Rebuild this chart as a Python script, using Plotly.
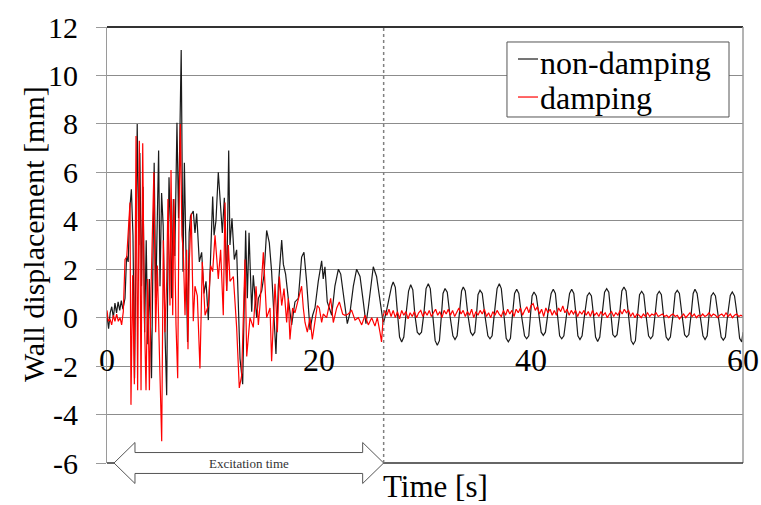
import plotly.graph_objects as go

# ---------------- data ----------------
y_min, y_max = -6, 12
x_min, x_max = 0, 60
x_ticks = [0, 20, 40, 60]
y_ticks = [12, 10, 8, 6, 4, 2, 0, -2, -4, -6]
y_tick_labels = ["12", "10", "8", "6", "4", "2", "0", "-2", "-4", "-6"]
series_names = ["non-damping", "damping"]
series_colors = ["#1a1a1a", "#ff0000"]
excitation_start = 0.66
excitation_end = 26.1

# non-damping (black)
nd_time = [0.0, 0.15, 0.3, 0.45, 0.6, 0.75, 0.9, 1.05, 1.2, 1.35, 1.5, 1.7, 1.85, 2.0, 2.15, 2.3, 2.45, 2.6,
           2.85, 3.0, 3.1, 3.25, 3.4, 3.55, 3.7, 3.85, 4.0, 4.2, 4.45, 4.6, 4.87, 5.0, 5.15, 5.3, 5.47, 5.63,
           5.75, 5.85, 6.0, 6.1, 6.26, 6.4, 6.6, 6.75, 7.0, 7.17, 7.3, 7.45, 7.6, 7.75, 7.88,
           8.14, 8.3, 8.46, 8.71, 8.93, 9.15, 9.34, 9.56, 9.78, 9.97, 10.1, 10.28, 10.5, 10.72, 10.88, 11.07,
           11.29, 11.48, 11.6, 11.79, 12.01, 12.23, 12.55, 12.8, 12.96, 13.08, 13.24, 13.4, 13.65, 13.8, 14.12,
           14.28, 14.59, 14.81, 15.06, 15.31, 15.53, 15.94, 16.16, 16.48, 16.64, 16.85, 17.1, 17.42, 17.73,
           18.05, 18.36, 18.58, 18.83, 19.15, 19.4, 19.62, 19.93, 20.25, 20.4, 20.56, 20.78, 21.2, 21.5, 21.83,
           22.05, 22.45, 22.67, 22.92, 23.24, 23.55, 23.87, 24.18, 24.43, 24.65, 24.87, 25.12, 25.43, 25.75, 26.07,
           26.4, 26.7, 26.85, 27.0, 27.2, 27.4, 27.6, 27.8, 28.0, 28.2, 28.45, 28.65, 28.85, 29.05, 29.27, 29.47,
           29.67, 29.9, 30.1, 30.31, 30.5, 30.73, 30.96, 31.16, 31.36, 31.55, 31.7, 31.89, 32.1, 32.35, 32.63,
           32.83, 33.03, 33.25, 33.45, 33.61, 33.8, 34.05, 34.3, 34.5, 34.7, 34.85, 35.0, 35.19, 35.4, 35.65,
           35.93, 36.13, 36.33, 36.55, 36.8, 37.01, 37.2, 37.45, 37.66, 37.86, 38.06, 38.25, 38.45, 38.65, 38.85,
           39.1, 39.39, 39.59, 39.79, 39.95, 40.1, 40.28, 40.5, 40.75, 40.96, 41.16, 41.36, 41.6, 41.9, 42.1,
           42.3, 42.5, 42.7, 42.9, 43.1, 43.35, 43.64, 43.84, 44.04, 44.25, 44.42, 44.62, 44.82, 45.05, 45.3,
           45.5, 45.7, 45.9, 46.09, 46.29, 46.49, 46.7, 46.94, 47.14, 47.34, 47.55, 47.72, 47.92, 48.12, 48.35,
           48.57, 48.77, 48.97, 49.2, 49.45, 49.65, 49.85, 50.05, 50.24, 50.44, 50.64, 50.85, 51.09, 51.29, 51.49,
           51.7, 51.9, 52.1, 52.3, 52.5, 52.75, 52.95, 53.15, 53.4, 53.6, 53.8, 54.0, 54.25, 54.49, 54.69, 54.89,
           55.1, 55.3, 55.47, 55.67, 55.95, 56.22, 56.42, 56.62, 56.8, 57.0, 57.2, 57.4, 57.65, 57.94, 58.14,
           58.34, 58.55, 58.8, 58.99, 59.2, 59.45, 59.68, 59.88, 60.0]
nd_disp = [0.1, -0.45, 0.2, 0.45, 0.0, 0.6, 0.2, 0.65, 0.3, 0.7, 0.35, 0.8, 2.55, 2.3, 4.5, 5.3, 3.4, -2.5,
           8.0, 3.0, 6.8, 1.3, 5.4, -0.6, 3.2, -1.1, 1.6, -2.5, 6.4, 0.8, 6.9, 1.3, 5.15, 3.8, -0.6, -3.2,
           2.5, 5.8, 3.5, 0.8, 4.9, 2.55, 8.05, 4.1, 11.05, 1.9, 6.4, 3.2, -1.0, 3.5, 4.2,
           4.4, 3.5, 4.3, 2.3, 2.7, 1.0, 1.5, -0.1, 2.6, 5.0, 3.4, 4.0, 6.0, 4.3, 3.5, 4.95,
           1.1, 6.9, 3.0, 4.1, 2.4, 2.8, -1.7, -2.75, 0.5, 3.6, 0.8, 3.5, 0.25, 1.75, 0.0,
           0.8, 1.1, 1.75, 3.6, 3.1, 1.9, -1.5, 1.3, 3.2, 2.2, 1.8, 0.8, -0.3, 0.65,
           0.8, 2.5, 2.7, 1.5, -0.5, 0.1, 0.4, 1.5, 2.35, 1.6, 2.1, 0.65, 0.1, 1.3, 2.0,
           1.8, 0.5, -0.25, 0.2, 1.3, 2.0, 1.7, 0.65, -0.25, 0.4, 1.2, 2.1, 1.7, 0.8, -0.25,
           0.35, 1.0, 1.3, 1.47, 1.25, 0.2, -0.8, -1.0, -0.8, 0.1, 1.1, 1.36, 1.15, 0.1, -0.6, -0.7,
           -0.6, 0.2, 1.2, 1.4, 1.2, 0.1, -0.95, -1.14, -0.95, 0.1, 1.0, 1.2, 1.05, 0.1, -0.75,
           -0.9, -0.75, 0.2, 1.1, 1.27, 1.1, 0.1, -0.6, -0.73, -0.6, 0.1, 0.95, 1.13, 1.0, 0.1,
           -0.75, -0.87, -0.75, 0.2, 1.2, 1.4, 1.2, 0.1, -0.85, -1.0, -0.85, 0.1, 1.0, 1.17, 1.0,
           0.1, -0.75, -0.87, -0.75, 0.1, 0.9, 1.06, 0.9, 0.1, -0.6, -0.73, -0.6, 0.2, 1.0, 1.17,
           1.0, 0.1, -0.75, -0.87, -0.75, 0.1, 1.0, 1.17, 1.0, 0.1, -0.75, -0.9, -0.75, 0.1, 0.9,
           1.03, 0.9, 0.1, -0.8, -0.98, -0.8, 0.1, 1.05, 1.2, 1.05, 0.1, -0.7, -0.8, -0.7, 0.1,
           1.1, 1.27, 1.1, 0.1, -0.95, -1.1, -0.95, 0.1, 0.95, 1.09, 0.95, 0.1, -0.75, -0.87, -0.75,
           0.1, 0.95, 1.09, 0.95, 0.1, -0.8, -0.93, -0.8, 0.1, 1.0, 1.13, 1.0, 0.1, -0.7, -0.8, -0.7,
           0.1, 1.0, 1.17, 1.0, 0.1, -0.75, -0.9, -0.75, 0.1, 0.9, 1.03, 0.9, 0.1, -0.8, -0.93,
           -0.8, 0.1, 0.92, 1.06, 0.9, 0.1, -0.85, -1.0, -0.6]

# damping (red), excitation part
d_time_exc = [0.0, 0.12, 0.28, 0.44, 0.6, 0.75, 0.91, 1.07, 1.23, 1.38, 1.54, 1.7, 1.86, 2.01, 2.17, 2.26,
              2.42, 2.58, 2.74, 2.89, 3.05, 3.21, 3.37, 3.52, 3.68, 3.84, 4.0, 4.15, 4.31, 4.42, 4.59, 4.75,
              4.94, 5.16, 5.31, 5.47, 5.63, 5.75, 5.94, 6.04, 6.2, 6.32, 6.51, 6.67, 6.79, 6.92, 7.07, 7.2,
              7.36, 7.51, 7.64, 7.77, 7.95, 8.14, 8.3, 8.52, 8.77, 8.99, 9.25, 9.56, 9.78, 9.97, 10.19, 10.5,
              10.72, 10.97, 11.13, 11.29, 11.45, 11.6, 11.92, 12.23, 12.48, 12.7, 13.02, 13.18, 13.49, 13.8,
              14.06, 14.28, 14.43, 14.75, 15.06, 15.38, 15.53, 15.85, 16.07, 16.26, 16.48, 16.7, 16.95, 17.1,
              17.26, 17.51, 17.73, 18.05, 18.36, 18.52, 18.68, 18.9, 19.15, 19.37, 19.62, 19.84, 20.03, 20.25,
              20.4, 20.72, 21.1, 21.35, 21.67, 21.92, 22.23, 22.45, 22.76, 23.08, 23.4, 23.71, 24.03, 24.34,
              24.65, 24.97, 25.28, 25.5, 25.75, 25.9, 26.07]
d_disp_exc = [0.3, -0.15, -0.05, -0.3, 0.1, -0.15, 0.15, -0.15, 0.0, -0.3, 0.25, 2.4, 2.5, 3.5, 4.75, -3.6,
              1.75, -2.75, 7.5, -3.0, 7.3, -3.0, 7.2, 0.25, -3.0, 1.6, -3.0, 1.1, 3.5, 6.0, -0.6, 2.15,
              -1.4, -5.1, 3.2, -0.6, 1.5, 4.9, 0.5, 6.1, 0.1, 4.9, -0.3, -2.5, 4.2, 8.0, 3.4, 2.7,
              0.1, 2.8, -1.3, 2.4, 4.3, -0.15, 1.3, 0.9, -2.1, 2.3, 0.1, 0.5, 2.15, 1.9, 3.4, 1.6,
              2.8, 0.1, 4.75, 1.1, 3.0, 1.5, 1.7, -0.4, -2.9, -2.4, 2.4, -1.6, 0.0, -0.4,
              1.3, -0.3, 0.5, 2.7, 0.0, 0.4, -1.8, 1.4, -0.6, 1.7, 0.5, 1.2, -0.2, 0.8,
              -0.9, 0.4, 0.2, 0.8, 1.3, 0.4, -0.2, -0.6, 0.0, -0.9, -0.2, 0.5, 0.4, -0.2,
              0.15, 0.0, 0.8, -0.2, 0.4, 0.65, 0.15, 0.1, 0.15, 0.3, -0.1, 0.0, -0.3, 0.1,
              -0.3, 0.0, -0.35, 0.0, -0.6, -1.0, 0.1]
# damping (red), free vibration part, sampled every 0.2 s from 26.2 s
d_disp_post = [0.3, 0.1, 0.35, 0.05, 0.3, 0.0, 0.25, -0.05, 0.3, 0.1,
               0.25, -0.05, 0.2, 0.05, 0.25, 0.0, 0.2, 0.3, 0.05, 0.25,
               0.1, 0.3, 0.05, 0.2, 0.35, 0.1, 0.25, 0.0, 0.3, 0.15,
               0.35, 0.1, 0.3, 0.05, 0.25, 0.4, 0.15, 0.3, 0.05, 0.25,
               0.1, 0.35, 0.0, 0.25, 0.1, 0.3, 0.15, 0.35, 0.05, 0.2,
               0.0, 0.25, 0.1, 0.3, 0.15, 0.05, 0.3, 0.1, 0.35, 0.15,
               0.3, 0.05, 0.35, 0.2, 0.4, 0.1, 0.3, 0.45, 0.2, 0.5,
               0.58, 0.3, 0.45, 0.15, 0.35, 0.05, 0.4, 0.2, 0.35, 0.1,
               0.3, 0.1, 0.4, 0.25, 0.48, 0.2, 0.35, 0.1, 0.3, 0.15,
               0.3, 0.05, 0.25, 0.15, 0.3, 0.1, 0.25, 0.05, 0.3, 0.1,
               0.2, 0.05, 0.25, 0.1, 0.2, 0.0, 0.15, 0.25, 0.05, 0.2,
               0.1, 0.3, 0.15, 0.35, 0.2, 0.3, 0.05, 0.2, 0.0, 0.15,
               0.1, 0.0, 0.15, 0.05, 0.2, 0.05, 0.15, 0.1, 0.2, 0.05,
               0.1, 0.15, 0.05, 0.1, 0.0, 0.1, 0.15, 0.05, 0.1, -0.05,
               0.05, 0.15, 0.0, 0.1, 0.2, 0.05, 0.15, 0.0, 0.1, 0.05,
               0.15, 0.05, 0.1, 0.2, 0.05, 0.15, 0.1, 0.0, 0.1, 0.15,
               0.05, 0.2, 0.05, 0.15, 0.0, 0.1, 0.15, 0.05, 0.1, 0.05]
d_time_post = [round(26.2 + 0.2 * i, 1) for i in range(len(d_disp_post))]

d_time = d_time_exc + d_time_post
d_disp = d_disp_exc + d_disp_post

# ---------------- figure ----------------
SERIF = "Liberation Serif"

fig = go.Figure()
fig.add_trace(go.Scatter(x=nd_time, y=nd_disp, mode="lines", name=series_names[0],
                         line=dict(color=series_colors[0], width=1.2), showlegend=False))
fig.add_trace(go.Scatter(x=d_time, y=d_disp, mode="lines", name=series_names[1],
                         line=dict(color=series_colors[1], width=1.2), showlegend=False))

zero_pos = (0 - y_min) / (y_max - y_min)

fig.update_layout(
    width=761, height=505,
    margin=dict(l=107, r=18, t=27, b=42, autoexpand=False),
    paper_bgcolor="white", plot_bgcolor="white",
    font=dict(family=SERIF, color="black"),
    showlegend=False,
    xaxis=dict(range=[x_min, x_max], tickvals=x_ticks, ticktext=[str(v) for v in x_ticks],
               showgrid=False, zeroline=False, showline=False, automargin=False,
               anchor="free", position=zero_pos, ticks="",
               ticklabelstandoff=20,
               tickfont=dict(family=SERIF, size=32, color="black")),
    yaxis=dict(range=[y_min, y_max], tickvals=y_ticks, ticktext=y_tick_labels,
               showgrid=True, gridcolor="#8c8c8c", gridwidth=1, zeroline=False,
               showline=True, linecolor="#9a9a9a", linewidth=1, automargin=False,
               ticks="outside", ticklen=10, tickcolor="#9a9a9a",
               ticklabelstandoff=12,
               tickfont=dict(family=SERIF, size=30, color="black")),
)

# frame lines
fig.add_shape(type="line", xref="paper", yref="paper", x0=0, x1=1, y0=1, y1=1,
              line=dict(color="#333333", width=2), layer="above")
fig.add_shape(type="line", xref="paper", yref="paper", x0=1, x1=1, y0=0, y1=1,
              line=dict(color="#9a9a9a", width=1.5), layer="above")
fig.add_shape(type="line", xref="paper", yref="paper", x0=0, x1=1, y0=0, y1=0,
              line=dict(color="#333333", width=1.5), layer="above")

# end of excitation (dotted vertical line)
fig.add_shape(type="line", xref="x", yref="paper", x0=excitation_end, x1=excitation_end, y0=0, y1=1,
              line=dict(color="#808080", width=1.5, dash="dot"), layer="above")

# double-headed block arrow "Excitation time"
head_len = 1.98
xa0, xa1 = excitation_start, excitation_end
hb, hh = 0.024, 0.047
path = (f"M {xa0},0 L {xa0 + head_len},{hh} L {xa0 + head_len},{hb} L {xa1 - head_len},{hb} "
        f"L {xa1 - head_len},{hh} L {xa1},0 L {xa1 - head_len},{-hh} L {xa1 - head_len},{-hb} "
        f"L {xa0 + head_len},{-hb} L {xa0 + head_len},{-hh} Z")
fig.add_shape(type="path", xref="x", yref="paper", path=path,
              fillcolor="white", line=dict(color="#555555", width=1), layer="above")

fig.add_annotation(x=(xa0 + xa1) / 2, y=0, xref="x", yref="paper", text="Excitation time",
                   showarrow=False, xanchor="center", yanchor="middle",
                   font=dict(family=SERIF, size=13, color="#333333"))

# legend box (drawn to match the original's compact layout)
fig.add_shape(type="rect", xref="paper", yref="paper", x0=0.6289, x1=0.978, y0=0.7936, y1=0.9656,
              fillcolor="white", line=dict(color="#555555", width=1), layer="above")
legend_rows = [0.9266, 0.8394]
legend_text_rows = [0.9174, 0.8372]
for name, color, ly, ty in zip(series_names, series_colors, legend_rows, legend_text_rows):
    fig.add_shape(type="line", xref="paper", yref="paper", x0=0.6462, x1=0.6777, y0=ly, y1=ly,
                  line=dict(color=color, width=1.2), layer="above")
    fig.add_annotation(x=0.6777, y=ty, xref="paper", yref="paper", text=name,
                       showarrow=False, xanchor="left", yanchor="middle",
                       font=dict(family=SERIF, size=32, color="black"))

# axis titles
fig.add_annotation(x=0.517, y=-0.055, xref="paper", yref="paper", text="Time [s]",
                   showarrow=False, xanchor="center", yanchor="middle",
                   font=dict(family=SERIF, size=31, color="black"))
fig.add_annotation(x=-0.1164, y=0.525, xref="paper", yref="paper", text="Wall displacement [mm]",
                   showarrow=False, textangle=-90, xanchor="center", yanchor="middle",
                   font=dict(family=SERIF, size=30, color="black"))

fig.write_html("out.html")
